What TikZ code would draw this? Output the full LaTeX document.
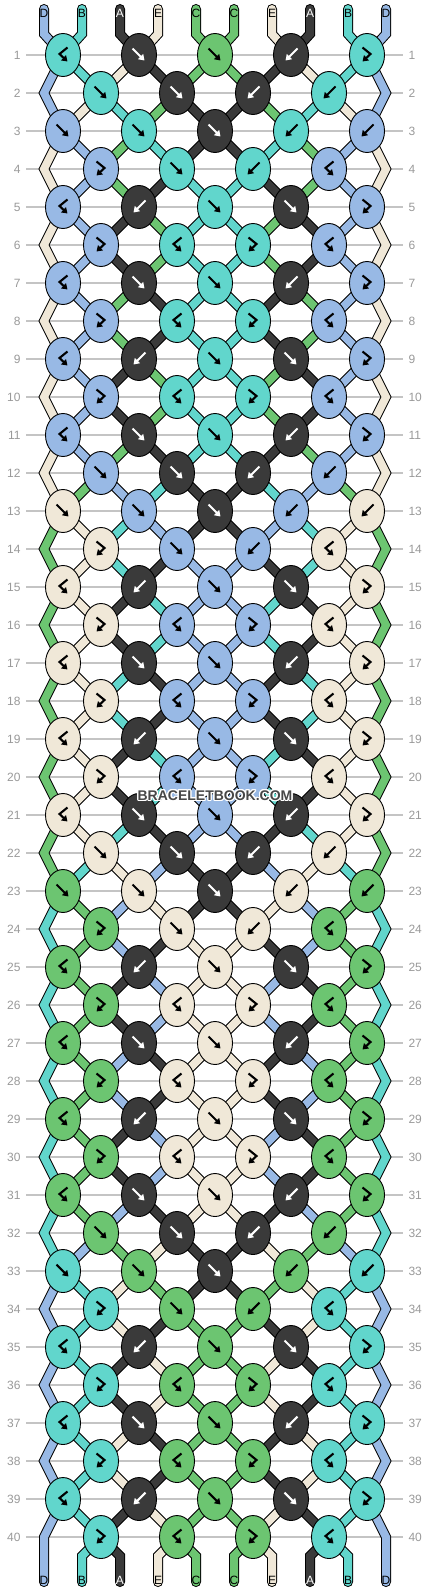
\documentclass[tikz,border=0pt]{standalone}
\usepackage{fontspec}
\setmainfont{Liberation Sans}
\usepackage{contour}
\usetikzlibrary{shapes.geometric,arrows.meta}

\definecolor{colA}{HTML}{3A3A3A}
\definecolor{colB}{HTML}{61D6CC}
\definecolor{colC}{HTML}{6CC571}
\definecolor{colD}{HTML}{98B9E5}
\definecolor{colE}{HTML}{F0E8D8}
\colorlet{inkA}{white}
\colorlet{inkB}{black}
\colorlet{inkC}{black}
\colorlet{inkD}{black}
\colorlet{inkE}{black}
\definecolor{rowgray}{HTML}{C4C4C4}
\definecolor{numgray}{HTML}{999999}

\pgfdeclarelayer{grid}
\pgfdeclarelayer{strands}
\pgfsetlayers{grid,strands,main}

\tikzset{
  knot/.style={ellipse, draw=black, line width=0.9pt, fill=col#1,
    minimum width=35pt, minimum height=43pt, inner sep=0pt},
  strand/.style={draw=black, line width=1pt, double=col#1,
    double distance=8pt, line cap=round},
  endlabel/.style={text=ink#1, inner sep=0pt, font=\fontsize{12}{12}\selectfont},
  rownum/.style={text=numgray, inner sep=0pt, outer sep=5.5pt, font=\fontsize{12}{12}\selectfont},
  rowline/.style={draw=rowgray, line width=1.2pt},
  markline/.style={line width=2.1pt, -{Triangle[length=5.5pt,width=7pt]}},
  pics/mark-f/.style={code={\draw[markline] (-6.5,-6.5) -- (5.5,5.5);}},
  pics/mark-b/.style={code={\draw[markline] (6.5,-6.5) -- (-5.5,5.5);}},
  pics/mark-fb/.style={code={\draw[markline] (-4.5,-7.5) -- (3.5,-1) -- (-4.5,6.5);}},
  pics/mark-bf/.style={code={\draw[markline] (4.5,-7.5) -- (-3.5,-1) -- (4.5,6.5);}},
}

\begin{document}
\begin{tikzpicture}[x=1pt, y=-1pt]
  \useasboundingbox (0,0) rectangle (430,1592);

  % row numbers and guide lines
  \foreach \row in {1,...,40} {
    \node[rownum, anchor=east] (nl-\row) at (26,{17+38*\row}) {\row};
    \node[rownum, anchor=west] (nr-\row) at (403,{17+38*\row}) {\row};
    \begin{pgfonlayer}{grid}
      \draw[rowline] (nl-\row) -- (nr-\row);
    \end{pgfonlayer}
  }

  % knots, one list per row
  \foreach \knots [count=\row] in {
    {B/bf,A/f,C/f,A/b,B/fb}, {B/f,A/f,A/b,B/b},
    {D/f,B/f,A/f,B/b,D/b}, {D/fb,B/f,B/b,D/bf},
    {D/bf,A/b,B/f,A/f,D/fb}, {D/fb,B/bf,B/fb,D/bf},
    {D/bf,A/f,B/f,A/b,D/fb}, {D/fb,B/bf,B/fb,D/bf},
    {D/bf,A/b,B/f,A/f,D/fb}, {D/fb,B/bf,B/fb,D/bf},
    {D/bf,A/f,B/f,A/b,D/fb}, {D/f,A/f,A/b,D/b},
    {E/f,D/f,A/f,D/b,E/b}, {E/fb,D/f,D/b,E/bf},
    {E/bf,A/b,D/f,A/f,E/fb}, {E/fb,D/bf,D/fb,E/bf},
    {E/bf,A/f,D/f,A/b,E/fb}, {E/fb,D/bf,D/fb,E/bf},
    {E/bf,A/b,D/f,A/f,E/fb}, {E/fb,D/bf,D/fb,E/bf},
    {E/bf,A/f,D/f,A/b,E/fb}, {E/f,A/f,A/b,E/b},
    {C/f,E/f,A/f,E/b,C/b}, {C/fb,E/f,E/b,C/bf},
    {C/bf,A/b,E/f,A/f,C/fb}, {C/fb,E/bf,E/fb,C/bf},
    {C/bf,A/f,E/f,A/b,C/fb}, {C/fb,E/bf,E/fb,C/bf},
    {C/bf,A/b,E/f,A/f,C/fb}, {C/fb,E/bf,E/fb,C/bf},
    {C/bf,A/f,E/f,A/b,C/fb}, {C/f,A/f,A/b,C/b},
    {B/f,C/f,A/f,C/b,B/b}, {B/fb,C/f,C/b,B/bf},
    {B/bf,A/b,C/f,A/f,B/fb}, {B/fb,C/bf,C/fb,B/bf},
    {B/bf,A/f,C/f,A/b,B/fb}, {B/fb,C/bf,C/fb,B/bf},
    {B/bf,A/b,C/f,A/f,B/fb}, {B/fb,C/bf,C/fb,B/bf}} {
    \foreach \col/\kind [count=\i] in \knots {
      \pgfmathtruncatemacro\slot{2*\i-mod(\row,2)}
      \node[knot=\col] (k-\row-\slot) at ({25+38*\slot},{17+38*\row}) {};
      \pic[color=ink\col] at (k-\row-\slot) {mark-\kind};
    }
  }

  % turning points of the edge strings
  \foreach \row in {2,4,...,40} {
    \coordinate (k-\row-0) at (44,{17+38*\row});
    \coordinate (k-\row-10) at (386,{17+38*\row});
  }

  % strings between the rows, one list per gap
  \begin{pgfonlayer}{strands}
  \foreach \st [count=\row from 0] in {
    {D,B,A,E,C,C,E,A,B,D}, {D,B,E,A,C,C,A,E,B,D}, {D,E,B,C,A,A,C,B,E,D},
    {E,D,C,B,A,A,B,C,D,E}, {E,D,C,A,B,B,A,C,D,E}, {E,D,A,C,B,B,C,A,D,E},
    {E,D,A,C,B,B,C,A,D,E}, {E,D,C,A,B,B,A,C,D,E}, {E,D,C,A,B,B,A,C,D,E},
    {E,D,A,C,B,B,C,A,D,E}, {E,D,A,C,B,B,C,A,D,E}, {E,D,C,A,B,B,A,C,D,E},
    {E,C,D,B,A,A,B,D,C,E}, {C,E,B,D,A,A,D,B,E,C}, {C,E,B,A,D,D,A,B,E,C},
    {C,E,A,B,D,D,B,A,E,C}, {C,E,A,B,D,D,B,A,E,C}, {C,E,B,A,D,D,A,B,E,C},
    {C,E,B,A,D,D,A,B,E,C}, {C,E,A,B,D,D,B,A,E,C}, {C,E,A,B,D,D,B,A,E,C},
    {C,E,B,A,D,D,A,B,E,C}, {C,B,E,D,A,A,D,E,B,C}, {B,C,D,E,A,A,E,D,C,B},
    {B,C,D,A,E,E,A,D,C,B}, {B,C,A,D,E,E,D,A,C,B}, {B,C,A,D,E,E,D,A,C,B},
    {B,C,D,A,E,E,A,D,C,B}, {B,C,D,A,E,E,A,D,C,B}, {B,C,A,D,E,E,D,A,C,B},
    {B,C,A,D,E,E,D,A,C,B}, {B,C,D,A,E,E,A,D,C,B}, {B,D,C,E,A,A,E,C,D,B},
    {D,B,E,C,A,A,C,E,B,D}, {D,B,E,A,C,C,A,E,B,D}, {D,B,A,E,C,C,E,A,B,D},
    {D,B,A,E,C,C,E,A,B,D}, {D,B,E,A,C,C,A,E,B,D}, {D,B,E,A,C,C,A,E,B,D},
    {D,B,A,E,C,C,E,A,B,D}, {D,B,A,E,C,C,E,A,B,D}} {
    \pgfmathtruncatemacro\rowA{\row+1}
    \pgfmathtruncatemacro\rowB{\row+2}
    \foreach \col [count=\pos] in \st {
      \pgfmathtruncatemacro\slotA{\pos-mod(\pos+\row,2)}
      \pgfmathtruncatemacro\slotB{\pos-mod(\pos+\row+1,2)}
      \pgfmathsetmacro\px{6+38*\pos}
      \ifnum\row=0
        \draw[strand=\col] (\px,9) -- (\px,34) -- (k-1-\slotB.center);
        \node[endlabel=\col] (top-\pos) at (\px,13) {\col};
      \else\ifnum\row=40
        \ifnum\slotA>0 \ifnum\slotA<10
          \draw[strand=\col] (k-40-\slotA.center) -- (\px,1556) -- (\px,1582);
        \fi\fi
        \node[endlabel=\col] (bot-\pos) at (\px,1580) {\col};
      \else\ifnum\slotA=0 \else\ifnum\slotA=10 \else
        \ifnum\slotB=0 \def\edge{1}\else\ifnum\slotB=10 \def\edge{1}\else\def\edge{0}\fi\fi
        \ifnum\edge=1
          \ifnum\row=39
            \draw[strand=\col] (k-39-\slotA.center) -- (k-40-\slotB) -- (\px,1582);
          \else
            \draw[strand=\col] (k-\row-\slotA.center) -- (k-\rowA-\slotB) -- (k-\rowB-\slotA.center);
          \fi
        \else
          \draw[strand=\col] (k-\row-\slotA.center) -- (k-\rowA-\slotB.center);
        \fi
      \fi\fi\fi\fi
    }
  }
  \end{pgfonlayer}

  \contourlength{1.2pt}
  \node[text=black!72, font=\bfseries\fontsize{14}{14}\selectfont] (mark) at (215,796) {\contour{white}{BRACELETBOOK.COM}};
\end{tikzpicture}
\end{document}
